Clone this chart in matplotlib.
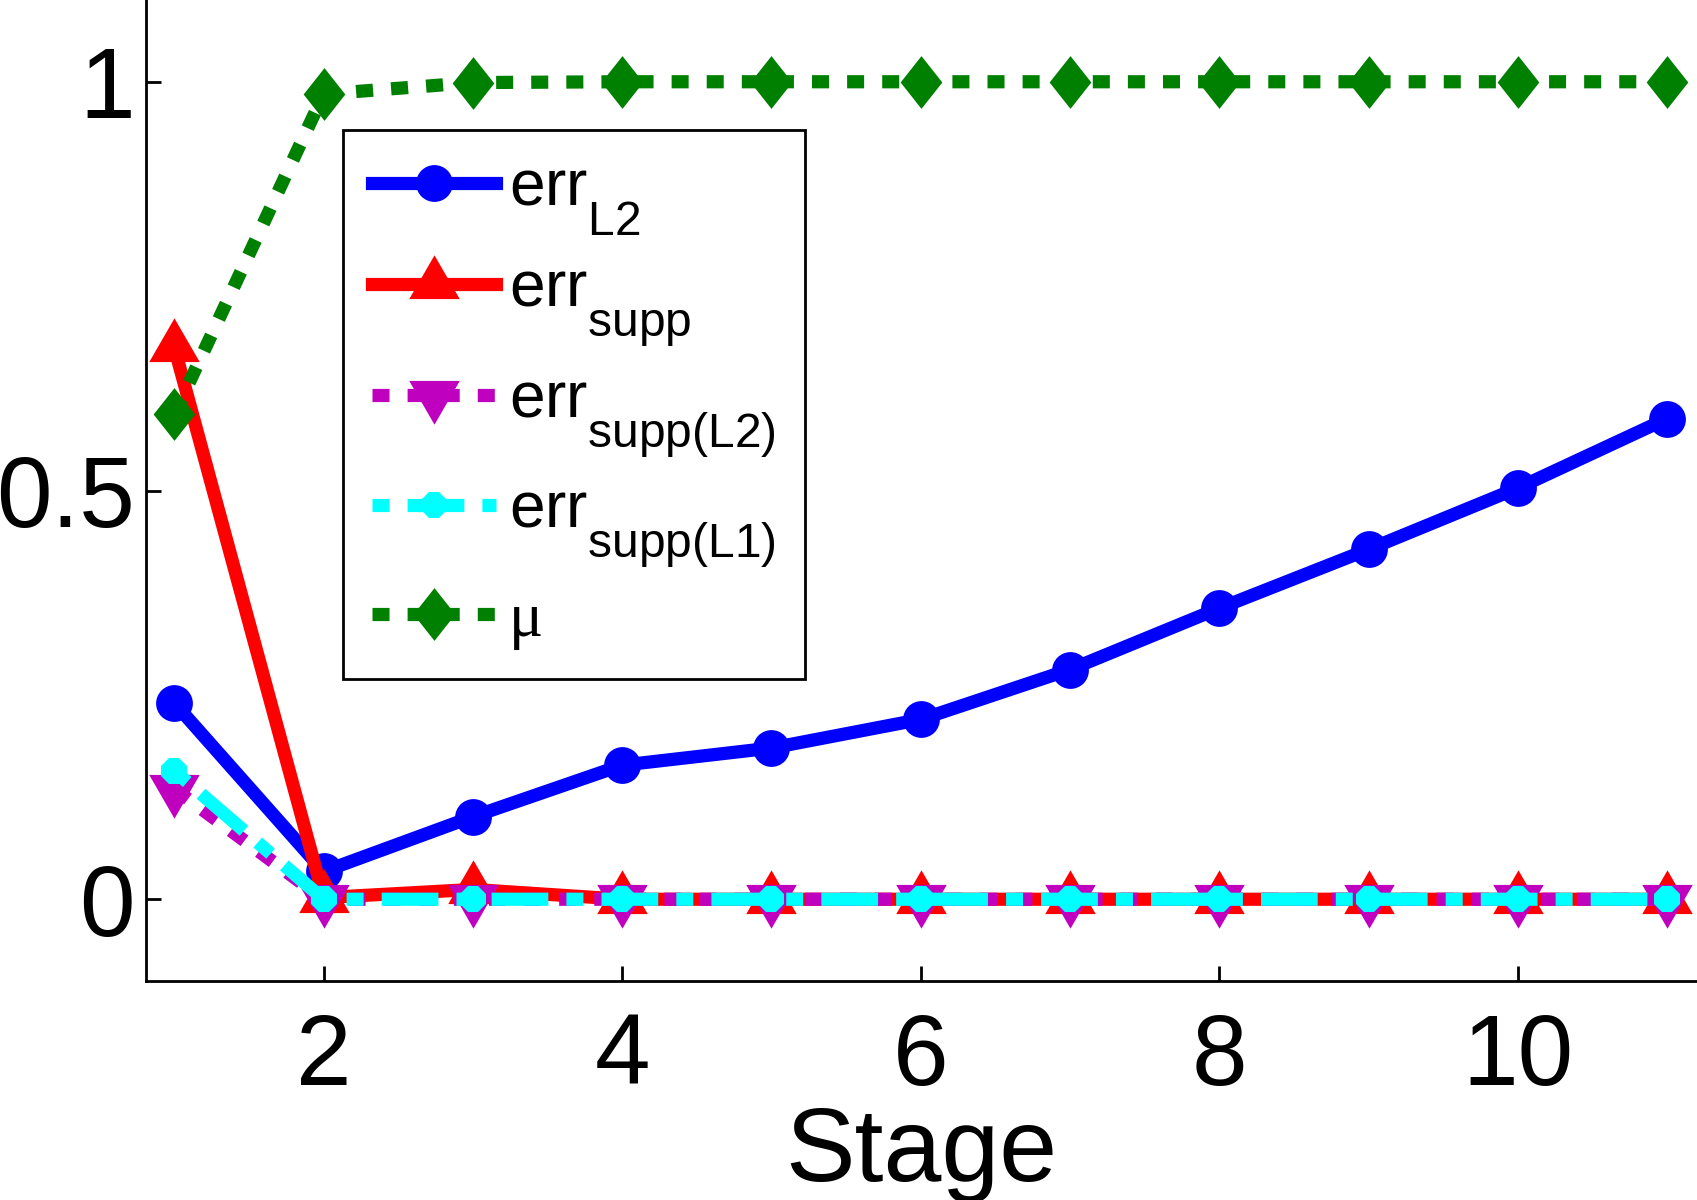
import numpy as np
import matplotlib.pyplot as plt
from matplotlib.path import Path
import matplotlib._mathtext as mtext

plt.rcParams['font.family'] = ['Liberation Sans', 'DejaVu Sans']
plt.rcParams['mathtext.fontset'] = 'custom'
plt.rcParams['mathtext.rm'] = 'Liberation Sans'
plt.rcParams['mathtext.it'] = 'Liberation Sans:italic'
# matlab tex puts subscripts lower and a bit bigger than mathtext does
mtext.FontConstantsBase.sub1 = 0.9
mtext.SHRINK_FACTOR = 0.75

# data
stage = [1, 2, 3, 4, 5, 6, 7, 8, 9, 10, 11]
err_l2 = [0.240, 0.034, 0.101, 0.164, 0.185, 0.220, 0.281, 0.356, 0.428, 0.503, 0.588]
err_supp = [0.675, 0.002, 0.012, 0, 0, 0, 0, 0, 0, 0, 0]
err_supp_l2 = [0.135, 0, 0, 0, 0, 0, 0, 0, 0, 0, 0]
err_supp_l1 = [0.157, 0, 0, 0, 0, 0, 0, 0, 0, 0, 0]
mu = [0.593, 0.985, 0.999, 1, 1, 1, 1, 1, 1, 1, 1]

labels = [r'err$_{\mathrm{L2}}$', r'err$_{\mathrm{supp}}$',
          r'err$_{\mathrm{supp(L2)}}$', r'err$_{\mathrm{supp(L1)}}$', 'μ']
xticks = [2, 4, 6, 8, 10]
yticks = [0, 0.5, 1]
yticklabels = ['0', '0.5', '1']

# matlab style markers (triangles centred on centroid, narrow diamond)
tri_up = Path([(0, 1), (-0.866, -0.5), (0.866, -0.5), (0, 1)], closed=True)
tri_dn = Path([(0, -1), (-0.866, 0.5), (0.866, 0.5), (0, -1)], closed=True)
diam = Path([(0, 1), (0.79, 0), (0, -1), (-0.79, 0), (0, 1)], closed=True)

lw = 9.5
dot = (1.29, 1.37)
dashdot = (1.29, 1.37, 4.3, 1.37)

fig = plt.figure(figsize=(16.97, 12), dpi=100)
ax = fig.add_axes([146 / 1697, 219 / 1200, 1551 / 1697, 981 / 1200])

ax.plot(stage, err_l2, '-', color='#0000ff', lw=lw, marker='o', ms=26.5, mew=0,
        label=labels[0])
ax.plot(stage, err_supp, '-', color='#ff0000', lw=lw, marker=tri_up, ms=42, mew=0,
        label=labels[1])
ax.plot(stage, err_supp_l2, color='#bf00bf', lw=lw, dashes=dot, marker=tri_dn,
        ms=42, mew=0, label=labels[2])
ax.plot(stage, err_supp_l1, color='#00ffff', lw=lw, dashes=dashdot, marker='8',
        ms=19.5, mew=0, label=labels[3])
ax.plot(stage, mu, color='#008000', lw=lw, dashes=dot, marker=diam, ms=38, mew=0,
        label=labels[4])

ax.set_xlim(0.81, 11.2)
ax.set_ylim(-0.1, 1.1)
ax.set_xticks(xticks)
ax.set_yticks(yticks)
ax.set_yticklabels(yticklabels)
for s in ['top', 'right']:
    ax.spines[s].set_visible(False)
for s in ['left', 'bottom']:
    ax.spines[s].set_linewidth(2)
ax.tick_params(direction='in', length=11, width=2, labelsize=72)
ax.tick_params(axis='x', pad=22)
ax.tick_params(axis='y', pad=8)
ax.set_xlabel('Stage', fontsize=75, labelpad=0)

leg = ax.legend(loc='upper left', bbox_to_anchor=(0.127, 0.8675), borderaxespad=0,
                fontsize=46, handlelength=1.95, handletextpad=0.2, labelspacing=0.33,
                borderpad=0.45, fancybox=False, framealpha=1, edgecolor='black')
leg.get_frame().set_linewidth(2)
leg.get_texts()[4].set_fontfamily('Liberation Serif')

fig.savefig('out.png', dpi=100)
